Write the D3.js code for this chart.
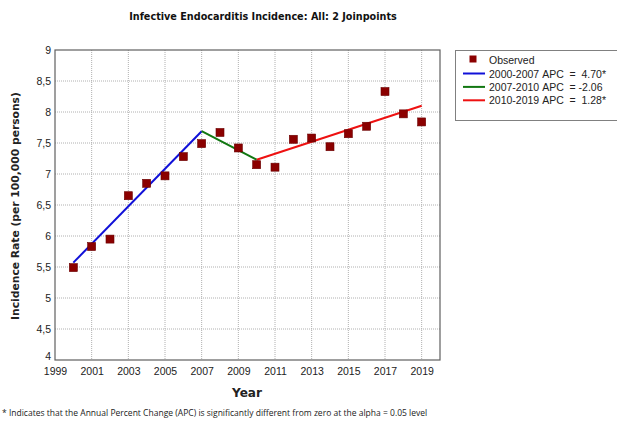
<!DOCTYPE html>
<html>
<head>
<meta charset="utf-8">
<script src="https://cdn.jsdelivr.net/npm/d3@7"></script>
<style>
  body { margin: 0; background: #fff; }
  svg { display: block; }
</style>
</head>
<body>
<div id="chart"></div>
<script>
// observed incidence per year
var years = [2000, 2001, 2002, 2003, 2004, 2005, 2006, 2007, 2008, 2009,
             2010, 2011, 2012, 2013, 2014, 2015, 2016, 2017, 2018, 2019];
var observed = [5.49, 5.83, 5.95, 6.65, 6.85, 6.97, 7.28, 7.49, 7.67, 7.42,
                7.15, 7.11, 7.56, 7.58, 7.44, 7.65, 7.77, 8.33, 7.97, 7.84];

// joinpoint segments (fitted values at the ends)
var segYears = [[2000, 2007], [2007, 2010], [2010, 2019]];
var segValues = [[5.57, 7.69], [7.69, 7.23], [7.23, 8.10]];
var segColors = ["#1010d8", "#117711", "#ee1111"];
var segLabels = ["2000-2007 APC  =  4.70*", "2007-2010 APC  = -2.06", "2010-2019 APC  =  1.28*"];

var xTicks = [1999, 2001, 2003, 2005, 2007, 2009, 2011, 2013, 2015, 2017, 2019];
var yTicks = [4, 4.5, 5, 5.5, 6, 6.5, 7, 7.5, 8, 8.5, 9];

var W = 617, H = 422;
var plot = {left: 55, right: 440, top: 50, bottom: 360};

var svg = d3.select("#chart").append("svg")
    .attr("width", W).attr("height", H)
    .style("font-family", "'Liberation Sans', Arial, sans-serif");

var x = d3.scaleLinear().domain([1999, 2020]).range([plot.left, plot.right]);
var y = d3.scaleLinear().domain([4, 9]).range([plot.bottom, plot.top]);

// shrink/grow a text to a target width
function fit(t, w) {
  var fs = parseFloat(t.attr("font-size"));
  var len = t.node().getComputedTextLength();
  t.attr("font-size", (fs * w / len).toFixed(2));
}

// grid
svg.append("g").selectAll("line").data(xTicks.slice(1)).enter().append("line")
    .attr("x1", d => x(d)).attr("x2", d => x(d))
    .attr("y1", plot.top).attr("y2", plot.bottom)
    .attr("stroke", "#b0b0b0").attr("stroke-dasharray", "1,1");
svg.append("g").selectAll("line").data(yTicks.slice(1, -1)).enter().append("line")
    .attr("x1", plot.left).attr("x2", plot.right)
    .attr("y1", d => y(d)).attr("y2", d => y(d))
    .attr("stroke", "#b0b0b0").attr("stroke-dasharray", "1,1");

// frame
svg.append("rect")
    .attr("x", plot.left).attr("y", plot.top)
    .attr("width", plot.right - plot.left).attr("height", plot.bottom - plot.top)
    .attr("fill", "none").attr("stroke", "#606060").attr("stroke-width", 1.2);

// axes
var fmt = d => String(d).replace(".", ",");
var yAxis = svg.append("g")
    .attr("transform", "translate(" + plot.left + ",0)")
    .call(d3.axisLeft(y).tickValues(yTicks).tickFormat(fmt).tickSize(0).tickPadding(4));
var xAxis = svg.append("g")
    .attr("transform", "translate(0," + plot.bottom + ")")
    .call(d3.axisBottom(x).tickValues(xTicks).tickFormat(d3.format("d")).tickSize(0).tickPadding(8));
[yAxis, xAxis].forEach(a => {
  a.select(".domain").remove();
  a.selectAll("text").attr("font-size", 10.5).attr("fill", "#222")
      .style("font-family", "'Liberation Sans', Arial, sans-serif");
});
// the "4" sits a bit above its tick, clear of the year labels
yAxis.selectAll(".tick text").filter(d => d === 4).attr("dy", "-0.05em");

// fitted segments
svg.append("g").selectAll("line").data(segYears).enter().append("line")
    .attr("x1", d => x(d[0])).attr("x2", d => x(d[1]))
    .attr("y1", (d, i) => y(segValues[i][0])).attr("y2", (d, i) => y(segValues[i][1]))
    .attr("stroke", (d, i) => segColors[i]).attr("stroke-width", 2);

// observed points
var sz = 8;
svg.append("g").selectAll("rect").data(years).enter().append("rect")
    .attr("x", d => x(d) - sz / 2)
    .attr("y", (d, i) => y(observed[i]) - sz / 2)
    .attr("width", sz).attr("height", sz)
    .attr("fill", "#8b0000").attr("stroke", "#6a0000").attr("stroke-width", 0.6);

// title
var title = svg.append("text")
    .attr("x", 263).attr("y", 20).attr("text-anchor", "middle")
    .attr("font-size", 12).attr("font-weight", "bold").attr("fill", "#111")
    .style("font-family", "'DejaVu Sans', Verdana, sans-serif")
    .text("Infective Endocarditis Incidence: All: 2 Joinpoints");
fit(title, 268);

// axis titles
var yl = svg.append("text")
    .attr("transform", "translate(19,206) rotate(-90)")
    .attr("text-anchor", "middle")
    .attr("font-size", 12).attr("font-weight", "bold").attr("fill", "#222")
    .style("font-family", "'DejaVu Sans', Verdana, sans-serif")
    .text("Incidence Rate (per 100,000 persons)");
fit(yl, 228);

var xl = svg.append("text")
    .attr("x", 247).attr("y", 397).attr("text-anchor", "middle")
    .attr("font-size", 12).attr("font-weight", "bold").attr("fill", "#222")
    .style("font-family", "'DejaVu Sans', Verdana, sans-serif")
    .text("Year");
fit(xl, 30);

// legend
var lg = svg.append("g");
lg.append("rect")
    .attr("x", 455.5).attr("y", 50.5).attr("width", 170).attr("height", 70)
    .attr("fill", "#fff").attr("stroke", "#808080");
lg.append("rect")
    .attr("x", 473 - 3.5).attr("y", 59 - 3.5).attr("width", 7).attr("height", 7)
    .attr("fill", "#8b0000");
lg.append("text").attr("x", 489).attr("y", 63.5)
    .attr("font-size", 10.5).attr("fill", "#222").text("Observed");
var rows = lg.selectAll("g.row").data(segLabels).enter().append("g")
    .attr("transform", (d, i) => "translate(0," + (73.5 + i * 13.4) + ")");
rows.append("line").attr("x1", 463).attr("x2", 485)
    .attr("stroke", (d, i) => segColors[i]).attr("stroke-width", 2);
rows.append("text").attr("x", 489).attr("y", 4)
    .attr("font-size", 10.5).attr("fill", "#222")
    .text(d => d.replace(/ /g, "\u00a0"));

// footnote
var fn = svg.append("text")
    .attr("x", 2).attr("y", 416)
    .attr("font-size", 10).attr("fill", "#222")
    .style("font-family", "'Open Sans', 'Liberation Sans', sans-serif")
    .text("* Indicates that the Annual Percent Change (APC) is significantly different from zero at the alpha = 0.05 level");
fit(fn, 426);
</script>
</body>
</html>
